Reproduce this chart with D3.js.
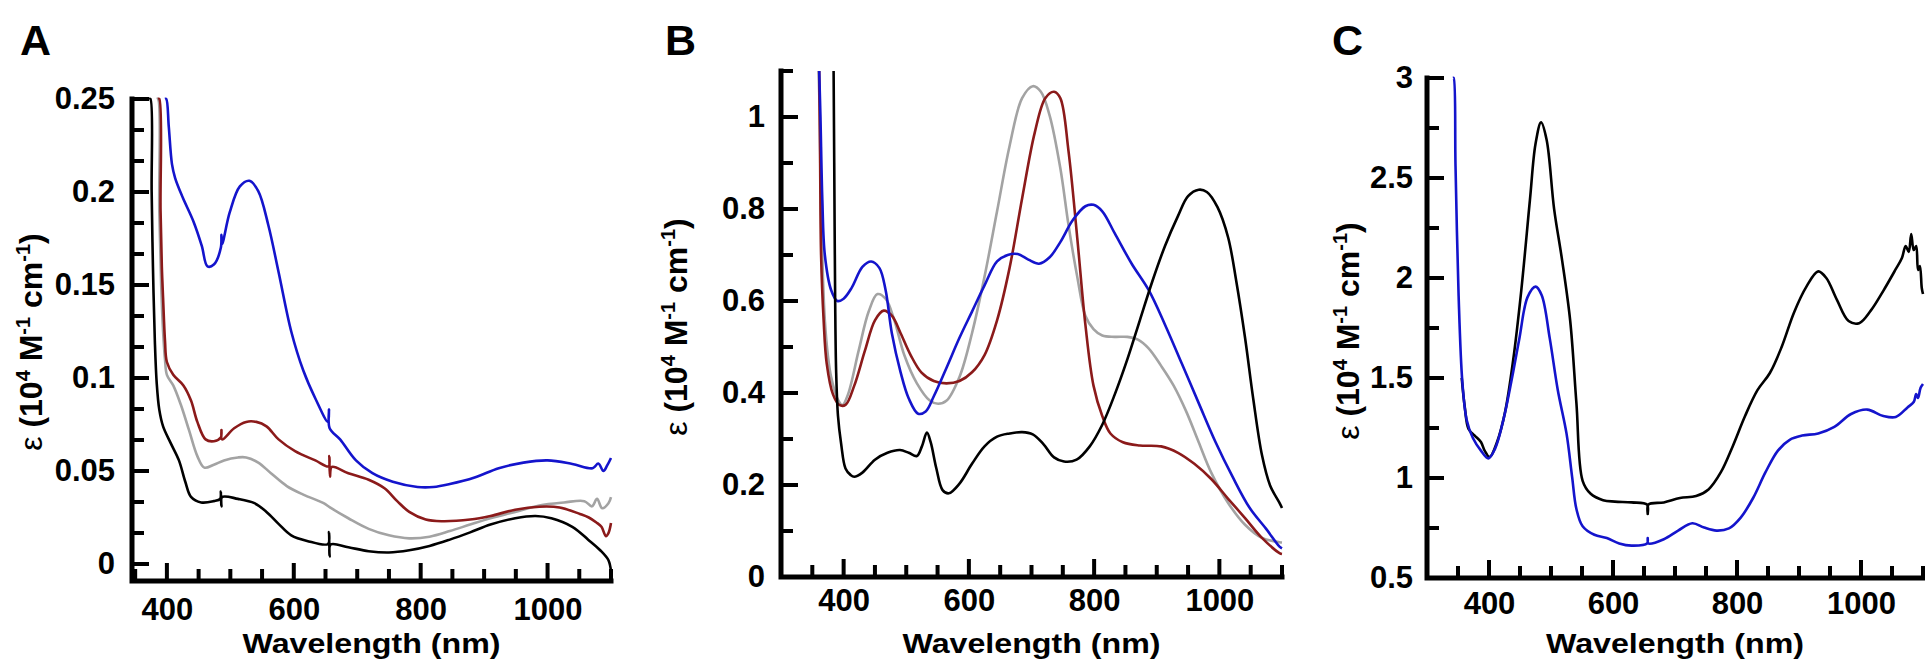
<!DOCTYPE html>
<html>
<head>
<meta charset="utf-8">
<script src="https://cdn.jsdelivr.net/npm/d3@7"></script>
<style>
  body { margin: 0; background: #fff; color: #000; }
  svg text { font-family: Arial, "Liberation Sans", sans-serif; font-weight: bold; fill: #000; }
</style>
</head>
<body>
<svg id="fig" width="1925" height="669"></svg>
<script>
// ---- data: [wavelength nm, epsilon (10^4 M-1 cm-1)] ----
const aBlack = [[372,0.30],[374,0.25],[376,0.20],[378,0.16],[381,0.12],[384,0.097],[388,0.083],[394,0.074],[406,0.065],[419,0.0557],[429,0.0442],[438,0.0361],[454,0.0331],[474,0.0338],[484,0.035],[485,0.039],[486,0.031],[487,0.036],[512,0.035],[538,0.0327],[557,0.028],[576,0.0216],[596,0.0154],[621,0.0124],[654,0.0108],[655.5,0.0172],[656.5,0.0040],[658,0.0105],[686,0.009],[718,0.0069],[750,0.0062],[782,0.0074],[814,0.0097],[846,0.0131],[878,0.017],[910,0.0212],[949,0.0246],[981,0.0258],[1006,0.0246],[1039,0.020],[1064,0.0131],[1083,0.0074],[1096,0.002],[1100,-0.004]];
const aGray = [[384,0.30],[386,0.25],[388,0.19],[391,0.15],[394,0.125],[397,0.11],[400,0.1017],[410,0.096],[422,0.0856],[435,0.0718],[448,0.058],[459,0.0518],[474,0.0534],[490,0.0557],[512,0.0573],[525,0.0573],[544,0.0545],[564,0.0488],[589,0.0419],[615,0.0373],[647,0.0327],[657,0.0304],[686,0.0246],[718,0.0189],[750,0.0154],[782,0.0138],[814,0.0147],[846,0.0177],[878,0.0212],[910,0.0246],[949,0.028],[987,0.0315],[1026,0.0331],[1058,0.0338],[1070,0.031],[1078,0.035],[1086,0.030],[1096,0.0327],[1100,0.036]];
const aRed = [[386,0.30],[388,0.25],[390,0.19],[392,0.16],[394,0.143],[397,0.12],[400,0.1086],[410,0.1017],[426,0.096],[438,0.0879],[448,0.0764],[461,0.067],[474,0.066],[485,0.068],[486,0.072],[487,0.067],[506,0.073],[525,0.0764],[541,0.0764],[557,0.074],[576,0.067],[602,0.0607],[634,0.0557],[655,0.0525],[656,0.058],[657,0.047],[660,0.0522],[686,0.0488],[718,0.0453],[743,0.0407],[763,0.0338],[782,0.028],[808,0.0239],[833,0.023],[878,0.0239],[910,0.0258],[949,0.0292],[987,0.0308],[1019,0.0304],[1051,0.0269],[1065,0.025],[1077,0.0223],[1085,0.020],[1092,0.015],[1096,0.0166],[1100,0.022]];
const aBlue = [[397,0.30],[399,0.25],[403,0.235],[408,0.215],[413,0.2075],[425,0.197],[442,0.184],[455,0.171],[464,0.160],[474,0.161],[485,0.170],[486,0.177],[487,0.172],[499,0.189],[515,0.203],[530,0.206],[544,0.2005],[560,0.182],[576,0.157],[596,0.125],[615,0.104],[634,0.089],[654,0.0764],[655.5,0.083],[656.5,0.073],[673,0.067],[698,0.0557],[724,0.0488],[756,0.0442],[795,0.0414],[820,0.0414],[846,0.043],[885,0.0465],[923,0.0515],[962,0.0545],[1000,0.0557],[1039,0.0538],[1071,0.0515],[1080,0.054],[1088,0.050],[1094,0.053],[1100,0.057]];

const bBlack = [[384,1.2],[385,0.9],[386.5,0.6],[388,0.45],[391,0.35],[396,0.29],[403,0.236],[411,0.222],[417,0.218],[430,0.227],[450,0.255],[470,0.27],[490,0.276],[504,0.27],[517,0.263],[525,0.284],[533,0.314],[539,0.293],[548,0.2365],[558,0.189],[568,0.182],[585,0.203],[605,0.246],[625,0.284],[645,0.305],[665,0.312],[685,0.315],[702,0.31],[719,0.289],[736,0.26],[752,0.251],[772,0.255],[793,0.284],[813,0.331],[833,0.397],[853,0.473],[873,0.558],[893,0.643],[913,0.719],[934,0.785],[950,0.828],[967,0.842],[980,0.837],[997,0.804],[1014,0.738],[1027,0.643],[1041,0.52],[1054,0.388],[1068,0.265],[1081,0.199],[1096,0.161],[1100,0.15]];
const bGray = [[360,1.2],[362,1.0],[364,0.795],[367,0.65],[370,0.558],[375,0.48],[380,0.435],[390,0.388],[398,0.374],[407,0.397],[424,0.492],[440,0.577],[454,0.615],[467,0.605],[481,0.558],[497,0.482],[517,0.421],[538,0.383],[551,0.3765],[564,0.383],[585,0.435],[605,0.53],[625,0.653],[645,0.795],[665,0.937],[685,1.041],[702,1.067],[715,1.055],[729,1.003],[746,0.889],[759,0.766],[773,0.653],[786,0.568],[799,0.539],[813,0.525],[833,0.522],[853,0.522],[870,0.516],[887,0.497],[907,0.459],[927,0.416],[947,0.36],[967,0.293],[987,0.227],[1014,0.161],[1041,0.1135],[1068,0.085],[1096,0.0757],[1100,0.075]];
const bRed = [[361,1.2],[362.5,0.9],[364,0.7],[368,0.56],[373,0.464],[383,0.397],[393,0.374],[403,0.374],[417,0.416],[434,0.492],[450,0.558],[464,0.579],[477,0.568],[491,0.53],[507,0.4825],[524,0.445],[544,0.426],[564,0.421],[585,0.426],[605,0.445],[625,0.4825],[645,0.558],[665,0.672],[685,0.823],[705,0.965],[722,1.041],[736,1.055],[746,1.041],[759,0.927],[773,0.738],[786,0.549],[799,0.416],[813,0.35],[826,0.312],[846,0.293],[873,0.286],[907,0.284],[934,0.27],[960,0.246],[987,0.213],[1014,0.17],[1041,0.128],[1068,0.085],[1096,0.052],[1100,0.05]];
const bBlue = [[361,1.2],[363,1.0],[366,0.82],[370,0.7],[380,0.624],[390,0.6],[400,0.605],[413,0.629],[430,0.674],[444,0.686],[457,0.672],[467,0.624],[477,0.53],[491,0.445],[504,0.388],[519,0.355],[531,0.36],[544,0.393],[564,0.454],[585,0.52],[605,0.577],[625,0.634],[645,0.686],[662,0.7],[678,0.702],[695,0.69],[712,0.681],[729,0.695],[746,0.728],[766,0.776],[786,0.806],[799,0.809],[813,0.795],[833,0.747],[860,0.681],[887,0.624],[913,0.549],[940,0.464],[967,0.378],[994,0.293],[1021,0.218],[1048,0.151],[1075,0.104],[1096,0.066],[1100,0.062]];

const cBlack = [[356,1.5],[361,1.353],[367,1.245],[377,1.212],[387,1.18],[393,1.137],[401,1.105],[413,1.18],[426,1.331],[439,1.59],[452,1.936],[466,2.39],[475,2.67],[484,2.778],[493,2.69],[505,2.346],[518,2.087],[531,1.785],[541,1.374],[551,0.986],[564,0.921],[584,0.889],[603,0.882],[630,0.878],[655,0.867],[656,0.82],[657,0.867],[682,0.878],[708,0.9],[734,0.91],[754,0.943],[774,1.029],[793,1.158],[813,1.31],[833,1.439],[853,1.525],[872,1.655],[892,1.828],[912,1.957],[931,2.033],[944,2.0],[961,1.892],[980,1.785],[997,1.774],[1016,1.838],[1036,1.936],[1056,2.044],[1066,2.10],[1072,2.16],[1077,2.13],[1081,2.22],[1085,2.14],[1089,2.16],[1092,2.04],[1095,2.06],[1098,1.95],[1100,1.92]];
const cBlue = [[342,3.3],[343,3.0],[346,2.56],[351,1.91],[357,1.48],[364,1.29],[374,1.2],[387,1.137],[399,1.098],[410,1.148],[423,1.288],[436,1.482],[449,1.698],[462,1.903],[475,1.957],[485,1.914],[498,1.698],[511,1.439],[525,1.223],[534,1.007],[541,0.845],[551,0.759],[570,0.716],[590,0.7],[610,0.673],[630,0.662],[655,0.673],[656,0.70],[657,0.673],[682,0.694],[705,0.737],[728,0.774],[747,0.752],[767,0.737],[787,0.748],[806,0.802],[826,0.9],[846,1.029],[866,1.137],[885,1.191],[905,1.212],[931,1.223],[957,1.256],[984,1.32],[1010,1.342],[1036,1.31],[1056,1.305],[1075,1.353],[1085,1.38],[1089,1.42],[1092,1.40],[1096,1.45],[1100,1.47]];

// ---- tick labels ----
const xMajor = [400, 600, 800, 1000];
const aYMajor = [0, 0.05, 0.1, 0.15, 0.2, 0.25];
const bYMajor = [0, 0.2, 0.4, 0.6, 0.8, 1];
const cYMajor = [0.5, 1, 1.5, 2, 2.5, 3];

const colors = { black: '#000', gray: '#a3a3a3', red: '#8b1a1a', blue: '#1414cc' };

const panels = [
  { label: 'A', labelX: 20, xRange: [132, 611], xDomain: [345, 1100], xMinor: d3.range(350, 1101, 50),
    yRange: [581, 99], yDomain: [-0.00914, 0.25], yMajor: aYMajor, yMinor: d3.range(0, 0.2501, 0.05 / 3),
    yFmt: d3.format('.2~f'), xPad: 17, yPad: 17, titleX: 42, titleY: 342,
    series: [[aBlack, colors.black], [aGray, colors.gray], [aRed, colors.red], [aBlue, colors.blue]] },
  { label: 'B', labelX: 665, xRange: [781, 1282], xDomain: [300, 1100], xMinor: d3.range(350, 1101, 50),
    yRange: [577, 71], yDomain: [0, 1.1], yMajor: bYMajor, yMinor: d3.range(0.1, 1.101, 0.1),
    yFmt: d3.format('~g'), xPad: 12, yPad: 16, titleX: 687, titleY: 327,
    series: [[bGray, colors.gray], [bRed, colors.red], [bBlue, colors.blue], [bBlack, colors.black]] },
  { label: 'C', labelX: 1332, xRange: [1427, 1923], xDomain: [300, 1100], xMinor: d3.range(350, 1101, 50),
    yRange: [578, 78], yDomain: [0.5, 3], yMajor: cYMajor, yMinor: d3.range(0.75, 3.001, 0.25),
    yFmt: d3.format('~g'), xPad: 14, yPad: 14, titleX: 1359, titleY: 331,
    series: [[cBlack, colors.black], [cBlue, colors.blue]] },
];

const svg = d3.select('#fig');

panels.forEach((p, i) => {
  const xs = d3.scaleLinear().domain(p.xDomain).range(p.xRange);
  // clamp keeps the steep UV rise inside the frame
  const ys = d3.scaleLinear().domain(p.yDomain).range(p.yRange).clamp(true);
  const x0 = xs.range()[0], x1 = xs.range()[1];
  const y0 = ys.range()[0], y1 = ys.range()[1];

  // L-shaped frame drawn as one stroked path
  svg.append('path')
    .datum([[x0, y1], [x0, y0], [x1, y0]])
    .attr('fill', 'none')
    .attr('stroke', '#000')
    .attr('stroke-width', 5)
    .attr('stroke-linejoin', 'miter')
    .attr('stroke-linecap', 'square')
    .attr('d', d3.line());

  // inward ticks as one stroked path
  const tp = d3.path();
  p.xMinor.forEach(d => { tp.moveTo(xs(d), y0); tp.lineTo(xs(d), y0 - 12); });
  xMajor.forEach(d => { tp.moveTo(xs(d), y0); tp.lineTo(xs(d), y0 - 18); });
  p.yMinor.forEach(d => { tp.moveTo(x0, ys(d)); tp.lineTo(x0 + 12, ys(d)); });
  p.yMajor.forEach(d => { tp.moveTo(x0, ys(d)); tp.lineTo(x0 + 17, ys(d)); });
  svg.append('path')
    .attr('fill', 'none')
    .attr('stroke', '#000')
    .attr('stroke-width', 4)
    .attr('d', tp.toString());

  const curve = d3.line()
    .x(d => xs(d[0]))
    .y(d => ys(d[1]))
    .curve(d3.curveCatmullRom.alpha(0.5));

  p.series.forEach(([data, color]) => {
    svg.append('path')
      .datum(data)
      .attr('fill', 'none')
      .attr('stroke', color)
      .attr('stroke-width', 2.6)
      .attr('stroke-linejoin', 'round')
      .attr('d', curve);
  });

  // tick labels from d3 axes
  svg.append('g')
    .attr('transform', `translate(0,${y0})`)
    .call(d3.axisBottom(xs).tickValues(xMajor).tickSize(0).tickPadding(p.xPad).tickFormat(d3.format('d')))
    .call(a => a.select('.domain').remove())
    .call(a => a.selectAll('line').remove())
    .call(a => a.selectAll('text').attr('font-size', 31).attr('font-family', null));
  svg.append('g')
    .attr('transform', `translate(${x0},0)`)
    .call(d3.axisLeft(ys).tickValues(p.yMajor).tickSize(0).tickPadding(p.yPad).tickFormat(p.yFmt))
    .call(a => a.select('.domain').remove())
    .call(a => a.selectAll('line').remove())
    .call(a => a.selectAll('text').attr('font-size', 31).attr('font-family', null));

  // x title
  svg.append('text')
    .attr('x', (x0 + x1) / 2)
    .attr('y', 653)
    .attr('text-anchor', 'middle')
    .attr('font-size', 28)
    .attr('textLength', 258)
    .attr('lengthAdjust', 'spacingAndGlyphs')
    .text('Wavelength (nm)');

  // y title
  const t = svg.append('text')
    .attr('transform', `translate(${p.titleX},${p.titleY}) rotate(-90)`)
    .attr('text-anchor', 'middle')
    .attr('font-size', 32);
  t.append('tspan').attr('font-weight', 'normal').text('ε');
  t.append('tspan').text(' (10');
  t.append('tspan').attr('font-size', 20).attr('dy', -12).text('4');
  t.append('tspan').attr('dy', 12).text(' M');
  t.append('tspan').attr('font-size', 20).attr('dy', -12).text('-1');
  t.append('tspan').attr('dy', 12).text(' cm');
  t.append('tspan').attr('font-size', 20).attr('dy', -12).text('-1');
  t.append('tspan').attr('dy', 12).text(')');

  // panel letter
  svg.append('text')
    .attr('x', p.labelX)
    .attr('y', 55)
    .attr('font-size', 43)
    .text(p.label);
});
</script>
</body>
</html>
